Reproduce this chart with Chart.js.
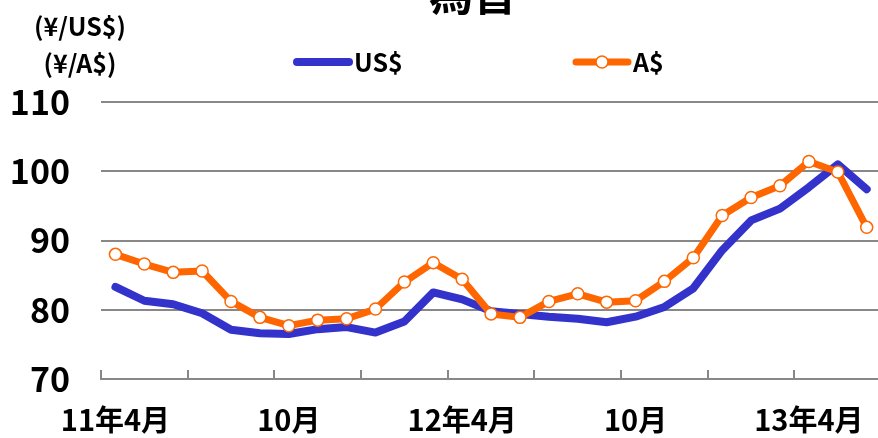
<!DOCTYPE html>
<html lang="ja">
<head>
<meta charset="utf-8">
<script src="https://cdn.jsdelivr.net/npm/chart.js@4.4.1/dist/chart.umd.min.js"></script>
<style>
  html, body { margin: 0; padding: 0; background: #fff; overflow: hidden; }
  #wrap { position: absolute; left: 0; top: 0; width: 900px; height: 438px; }
</style>
</head>
<body>
<div id="wrap"><canvas id="fxChart"></canvas></div>
<script>
// 月 (11年4月 ～ 13年6月)
const months = [
  '11年4月', '5月', '6月', '7月', '8月', '9月', '10月', '11月', '12月',
  '12年1月', '2月', '3月', '12年4月', '5月', '6月', '7月', '8月', '9月',
  '10月', '11月', '12月', '13年1月', '2月', '3月', '13年4月', '5月', '6月'
];
// 円/US$
const usdValues = [
  83.3, 81.3, 80.8, 79.5, 77.1, 76.6, 76.5, 77.2, 77.5,
  76.7, 78.3, 82.5, 81.5, 79.8, 79.4, 79.0, 78.7, 78.2,
  79.0, 80.4, 83.1, 88.6, 92.9, 94.6, 97.7, 101.0, 97.4
];
// 円/A$
const audValues = [
  88.0, 86.6, 85.4, 85.6, 81.2, 78.9, 77.7, 78.5, 78.7,
  80.1, 84.0, 86.8, 84.4, 79.4, 78.9, 81.2, 82.3, 81.1,
  81.3, 84.1, 87.5, 93.6, 96.2, 97.9, 101.4, 99.9, 91.9
];
const yTicks = [70, 80, 90, 100, 110];
const seriesNames = ['US$', 'A$'];
const unitLabels = ['(¥/US$)', '(¥/A$)'];
const chartTitle = '為替';

const FONT = "'Noto Sans CJK JP', sans-serif";

// タイトル・単位・凡例
const headerPlugin = {
  id: 'header',
  afterDraw(chart) {
    const ctx = chart.ctx;
    ctx.save();
    ctx.fillStyle = '#000';
    ctx.textAlign = 'center';
    ctx.textBaseline = 'alphabetic';
    ctx.font = 'bold 44px ' + FONT;
    ctx.fillText(chartTitle, 473, 11);

    ctx.textBaseline = 'middle';
    ctx.font = 'bold 25px ' + FONT;
    ctx.fillText(unitLabels[0], 80, 26);
    ctx.fillText(unitLabels[1], 80, 63);

    const starts = [293, 572];
    chart.data.datasets.forEach((ds, i) => {
      const x = starts[i], y = 62;
      ctx.strokeStyle = ds.borderColor;
      ctx.lineWidth = ds.borderWidth;
      ctx.lineCap = 'round';
      ctx.beginPath();
      ctx.moveTo(x + 4, y);
      ctx.lineTo(x + 56, y);
      ctx.stroke();
      if (ds.pointRadius > 0) {
        ctx.fillStyle = ds.pointBackgroundColor;
        ctx.strokeStyle = ds.pointBorderColor;
        ctx.lineWidth = ds.pointBorderWidth;
        ctx.beginPath();
        ctx.arc(x + 30, y, ds.pointRadius, 0, Math.PI * 2);
        ctx.fill();
        ctx.stroke();
      }
      ctx.fillStyle = '#000';
      ctx.textAlign = 'left';
      ctx.font = 'bold 25px ' + FONT;
      ctx.fillText(ds.label, x + 61, y);
    });
    ctx.restore();
  }
};

const ctx = document.getElementById('fxChart').getContext('2d');
new Chart(ctx, {
  type: 'line',
  data: {
    labels: months,
    datasets: [{
      label: seriesNames[0],
      data: usdValues,
      borderColor: '#3333CC',
      backgroundColor: '#3333CC',
      borderWidth: 8,
      pointRadius: 0,
      pointHoverRadius: 0,
      borderJoinStyle: 'round',
      borderCapStyle: 'round',
      order: 1
    }, {
      label: seriesNames[1],
      data: audValues,
      borderColor: '#FF6600',
      backgroundColor: '#FFFFFF',
      borderWidth: 7,
      pointRadius: 6,
      pointBorderWidth: 1.5,
      pointBackgroundColor: '#FFFFFF',
      pointBorderColor: '#FF6600',
      borderJoinStyle: 'round',
      order: 0
    }]
  },
  options: {
    responsive: true,
    maintainAspectRatio: false,
    animation: false,
    events: [],
    layout: { padding: { top: 102, right: 16, left: 0, bottom: 0 } },
    plugins: {
      legend: { display: false },
      tooltip: { enabled: false }
    },
    scales: {
      x: {
        offset: true,
        grid: {
          offset: true,
          drawOnChartArea: false,
          tickLength: -9,
          lineWidth: 2,
          color: c => (c.index % 3 === 0 ? '#888888' : 'rgba(0,0,0,0)')
        },
        border: { display: true, color: '#888888', width: 2 },
        ticks: {
          autoSkip: false,
          maxRotation: 0,
          padding: 33,
          color: '#000',
          font: { family: FONT, size: 29, weight: 'bold' },
          callback(v, i) { return i % 6 === 0 ? this.getLabelForValue(v) : ''; }
        },
        afterFit(scale) { scale.height = 59; }
      },
      y: {
        min: 70,
        max: 110,
        afterBuildTicks(scale) { scale.ticks = yTicks.map(v => ({ value: v })); },
        grid: { color: '#888888', lineWidth: 2, drawTicks: false },
        border: { display: false },
        ticks: {
          padding: 31,
          color: '#000',
          font: { family: FONT, size: 34, weight: 'bold' }
        },
        afterFit(scale) { scale.width = 101; }
      }
    }
  },
  plugins: [headerPlugin]
});
</script>
</body>
</html>
